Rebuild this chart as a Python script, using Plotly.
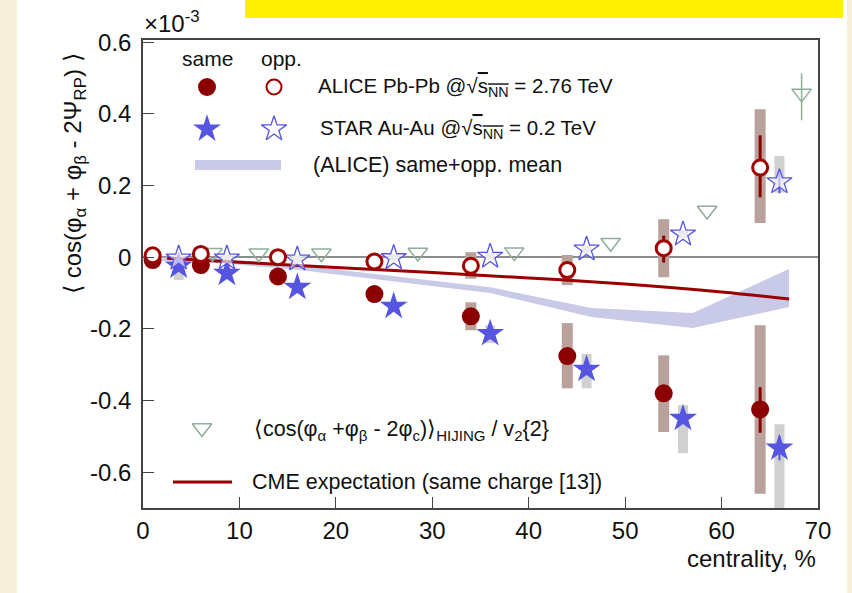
import plotly.graph_objects as go

# ---------------- data (values in units of 1e-3) ----------------
alice_x = [1, 6, 14, 24, 34, 44, 54, 64]
alice_same = [-0.008, -0.022, -0.054, -0.103, -0.165, -0.276, -0.38, -0.425]
alice_opp = [0.005, 0.009, 0.0, -0.012, -0.024, -0.036, 0.025, 0.25]
alice_same_sys_lo = [-0.018, -0.032, -0.064, -0.113, -0.204, -0.366, -0.488, -0.66]
alice_same_sys_hi = [0.002, -0.012, -0.044, -0.093, -0.126, -0.184, -0.274, -0.19]
alice_opp_sys_lo = [-0.005, -0.001, -0.01, -0.022, -0.06, -0.078, -0.056, 0.095]
alice_opp_sys_hi = [0.015, 0.019, 0.01, -0.002, 0.014, 0.006, 0.106, 0.413]
alice_same_stat_lo = [-0.008, -0.022, -0.054, -0.103, -0.165, -0.276, -0.40, -0.49]
alice_same_stat_hi = [-0.008, -0.022, -0.054, -0.103, -0.165, -0.276, -0.36, -0.363]
alice_opp_stat_lo = [0.005, 0.009, 0.0, -0.012, -0.024, -0.036, -0.015, 0.167]
alice_opp_stat_hi = [0.005, 0.009, 0.0, -0.012, -0.024, -0.036, 0.06, 0.34]

star_x = [3.7, 8.7, 16, 26, 36, 46, 56, 66]
star_same = [-0.025, -0.045, -0.084, -0.137, -0.213, -0.313, -0.45, -0.533]
star_opp = [-0.003, -0.003, -0.006, -0.002, 0.002, 0.022, 0.064, 0.21]
star_same_sys_lo = [-0.064, -0.055, -0.094, -0.147, -0.24, -0.366, -0.547, -0.72]
star_same_sys_hi = [-0.010, -0.035, -0.074, -0.127, -0.19, -0.27, -0.413, -0.466]
star_opp_sys_lo = [-0.013, -0.013, -0.016, -0.012, -0.008, 0.012, 0.054, 0.18]
star_opp_sys_hi = [0.007, 0.007, 0.004, 0.008, 0.012, 0.032, 0.074, 0.282]
star_same_stat_lo = [-0.025, -0.045, -0.084, -0.137, -0.213, -0.313, -0.45, -0.567]
star_same_stat_hi = [-0.025, -0.045, -0.084, -0.137, -0.213, -0.313, -0.45, -0.50]
star_opp_stat_lo = [-0.003, -0.003, -0.006, -0.002, 0.002, 0.022, 0.064, 0.178]
star_opp_stat_hi = [-0.003, -0.003, -0.006, -0.002, 0.002, 0.022, 0.064, 0.243]

hij_x = [7.2, 12, 18.5, 28.5, 38.5, 48.5, 58.5, 68.3]
hij_y = [0.012, 0.011, 0.011, 0.013, 0.014, 0.040, 0.130, 0.457]
hij_err_plus = [0, 0, 0, 0, 0, 0, 0, 0.056]
hij_err_minus = [0, 0, 0, 0, 0, 0, 0, 0.075]

band_x = [2, 7, 16, 26, 36, 46.5, 57, 67]
band_lo = [-0.010, -0.015, -0.035, -0.068, -0.100, -0.167, -0.198, -0.139]
band_hi = [0.0, -0.002, -0.022, -0.052, -0.084, -0.142, -0.156, -0.033]

cme_x = [2.5, 10, 20, 30, 40, 50, 60, 67]
cme_y = [-0.003, -0.014, -0.029, -0.043, -0.058, -0.075, -0.097, -0.117]

x_ticks = [0, 10, 20, 30, 40, 50, 60, 70]
y_ticks = [-0.6, -0.4, -0.2, 0, 0.2, 0.4, 0.6]
y_ticktext = ["-0.6", "-0.4", "-0.2", "0", "0.2", "0.4", "0.6"]

# ---------------- styles ----------------
RED = "#8b0000"
BLUE = "#5555e0"
HIJ = "#8fae9a"
SYS_A = "#baa29c"
SYS_S = "#d0d0d0"
BAND = "#c9c9e8"
FONT = "Liberation Sans, Arial, sans-serif"

W, H = 852, 593
L, R, T, B = 143, 818, 40, 508


def px(xp):
    return (xp - L) / (R - L)


def py(yp):
    return (B - yp) / (B - T)


def bounds(vals, lo, hi):
    up = [h - v for v, h in zip(vals, hi)]
    dn = [v - l for v, l in zip(vals, lo)]
    return up, dn


fig = go.Figure()

# band (same+opp mean)
fig.add_trace(go.Scatter(x=band_x, y=band_lo, mode="lines", line=dict(width=0),
                         hoverinfo="skip", showlegend=False))
fig.add_trace(go.Scatter(x=band_x, y=band_hi, mode="lines", line=dict(width=0),
                         fill="tonexty", fillcolor=BAND, showlegend=False))

# systematic boxes (drawn as thick error bars)
def sys_trace(x, y, lo, hi, color, thick):
    up, dn = bounds(y, lo, hi)
    return go.Scatter(x=x, y=y, mode="markers", marker=dict(size=0.1, opacity=0),
                      error_y=dict(type="data", symmetric=False, array=up, arrayminus=dn,
                                   color=color, thickness=thick, width=0),
                      showlegend=False, hoverinfo="skip")

fig.add_trace(sys_trace(star_x, star_same, star_same_sys_lo, star_same_sys_hi, SYS_S, 10))
fig.add_trace(sys_trace(star_x, star_opp, star_opp_sys_lo, star_opp_sys_hi, SYS_S, 10))
fig.add_trace(sys_trace(alice_x, alice_same, alice_same_sys_lo, alice_same_sys_hi, SYS_A, 11))
fig.add_trace(sys_trace(alice_x, alice_opp, alice_opp_sys_lo, alice_opp_sys_hi, SYS_A, 11))

# CME expectation line
fig.add_trace(go.Scatter(x=cme_x, y=cme_y, mode="lines", line=dict(color="#990000", width=3),
                         line_shape="spline", showlegend=False))

# HIJING
fig.add_trace(go.Scatter(x=hij_x, y=hij_y, mode="markers",
                         marker=dict(symbol="triangle-down-open", size=17, color=HIJ,
                                     line=dict(width=1.5, color=HIJ)),
                         error_y=dict(type="data", symmetric=False, array=hij_err_plus,
                                      arrayminus=hij_err_minus, color=HIJ, thickness=1.5, width=0),
                         showlegend=False))

# STAR
su, sd = bounds(star_same, star_same_stat_lo, star_same_stat_hi)
fig.add_trace(go.Scatter(x=star_x, y=star_same, mode="markers",
                         marker=dict(symbol="star", size=21, color=BLUE, line=dict(width=0)),
                         error_y=dict(type="data", symmetric=False, array=su, arrayminus=sd,
                                      color=BLUE, thickness=2, width=0),
                         showlegend=False))
ou, od = bounds(star_opp, star_opp_stat_lo, star_opp_stat_hi)
fig.add_trace(go.Scatter(x=star_x, y=star_opp, mode="markers",
                         marker=dict(symbol="star", size=19, color="rgba(255,255,255,0.6)",
                                     line=dict(width=1.3, color=BLUE)),
                         error_y=dict(type="data", symmetric=False, array=ou, arrayminus=od,
                                      color=BLUE, thickness=2, width=0),
                         showlegend=False))

# ALICE
au, ad = bounds(alice_same, alice_same_stat_lo, alice_same_stat_hi)
fig.add_trace(go.Scatter(x=alice_x, y=alice_same, mode="markers",
                         marker=dict(symbol="circle", size=18, color=RED, line=dict(width=0)),
                         error_y=dict(type="data", symmetric=False, array=au, arrayminus=ad,
                                      color=RED, thickness=3, width=0),
                         showlegend=False))
bu, bd = bounds(alice_opp, alice_opp_stat_lo, alice_opp_stat_hi)
fig.add_trace(go.Scatter(x=alice_x, y=alice_opp, mode="markers",
                         marker=dict(symbol="circle", size=15, color="white",
                                     line=dict(width=3, color="#a00000")),
                         error_y=dict(type="data", symmetric=False, array=bu, arrayminus=bd,
                                      color=RED, thickness=3, width=0),
                         showlegend=False))

# ---------------- legend keys (pixel overlay axes) ----------------
ov = dict(xaxis="x2", yaxis="y2", showlegend=False, hoverinfo="skip")
fig.add_trace(go.Scatter(x=[195, 281], y=[165, 165], mode="lines",
                         line=dict(color=BAND, width=10), **ov))
fig.add_trace(go.Scatter(x=[207], y=[87], mode="markers",
                         marker=dict(symbol="circle", size=18, color=RED), **ov))
fig.add_trace(go.Scatter(x=[274], y=[87], mode="markers",
                         marker=dict(symbol="circle", size=15, color="white",
                                     line=dict(width=2, color="#a00000")), **ov))
fig.add_trace(go.Scatter(x=[207], y=[129], mode="markers",
                         marker=dict(symbol="star", size=21, color=BLUE), **ov))
fig.add_trace(go.Scatter(x=[274], y=[129], mode="markers",
                         marker=dict(symbol="star", size=19, color="white",
                                     line=dict(width=1.3, color=BLUE)), **ov))
fig.add_trace(go.Scatter(x=[202], y=[428], mode="markers",
                         marker=dict(symbol="triangle-down-open", size=17, color=HIJ,
                                     line=dict(width=1.5, color=HIJ)), **ov))
fig.add_trace(go.Scatter(x=[173, 232], y=[482, 482], mode="lines",
                         line=dict(color="#990000", width=3), **ov))

axis_common = dict(showline=True, mirror=True, linecolor="#444", linewidth=1.5,
                   ticks="inside", ticklen=11, tickwidth=1.3, tickcolor="#444",
                   showgrid=False, tickfont=dict(family=FONT, size=24, color="#111"))

fig.update_layout(
    width=W, height=H,
    margin=dict(l=L, r=W - R, t=T, b=H - B),
    paper_bgcolor="white", plot_bgcolor="white",
    font=dict(family=FONT, color="#111"),
    xaxis=dict(range=[0, 70], tickvals=x_ticks, zeroline=False, **axis_common),
    yaxis=dict(range=[-0.7, 0.606], tickvals=y_ticks, ticktext=y_ticktext,
               zeroline=True, zerolinecolor="#8c8c8c", zerolinewidth=2,
               ticklabelstandoff=5, **axis_common),
    xaxis2=dict(overlaying="x", range=[L, R], visible=False),
    yaxis2=dict(overlaying="y", range=[B, T], visible=False),
)

# page decorations
shapes = [
    dict(type="rect", xref="paper", yref="paper", x0=px(0), x1=px(17), y0=py(H), y1=py(0),
         fillcolor="#f5efd9", line=dict(width=0), layer="below"),
    dict(type="rect", xref="paper", yref="paper", x0=px(847), x1=px(W), y0=py(H), y1=py(0),
         fillcolor="#f5efd9", line=dict(width=0), layer="below"),
    dict(type="rect", xref="paper", yref="paper", x0=px(245), x1=px(843), y0=py(18), y1=py(0),
         fillcolor="#fff000", line=dict(width=0)),
]
fig.update_layout(shapes=shapes)

def ann(x, y, text, size=20, xanchor="left", **kw):
    fig.add_annotation(x=px(x), y=py(y), xref="paper", yref="paper", text=text,
                       showarrow=False, xanchor=xanchor, yanchor="middle",
                       font=dict(family=FONT, size=size, color="#111"), **kw)

sq = "√<span style='text-decoration:overline'>s<sub>NN</sub></span>"
ann(207, 59, "same", 21, "center")
ann(281, 59, "opp.", 21, "center")
ann(316, 87, "ALICE Pb-Pb @" + sq + " = 2.76 TeV", 20.5)
ann(318, 129, "STAR Au-Au @" + sq + " = 0.2 TeV", 20.5)
ann(311, 165, "(ALICE) same+opp. mean", 21.5)
ann(252, 430, "⟨cos(φ<sub>α</sub> +φ<sub>β</sub> - 2φ<sub>c</sub>)⟩<sub>HIJING</sub> / v<sub>2</sub>{2}", 21.5)
ann(250, 482, "CME expectation (same charge [13])", 21.5)
ann(142, 22, "×10<sup>-3</sup>", 24)
ann(818, 558, "centrality, %", 24, "right")
fig.add_annotation(x=px(74), y=py(174), xref="paper", yref="paper",
                   text="⟨ cos(φ<sub>α</sub> + φ<sub>β</sub> - 2Ψ<sub>RP</sub>) ⟩",
                   showarrow=False, textangle=-90, xanchor="center", yanchor="middle",
                   font=dict(family=FONT, size=24, color="#111"))

fig.write_html("out.html", config={"displayModeBar": False},
               post_script="document.body.style.margin='0px';document.body.style.padding='0px';")
